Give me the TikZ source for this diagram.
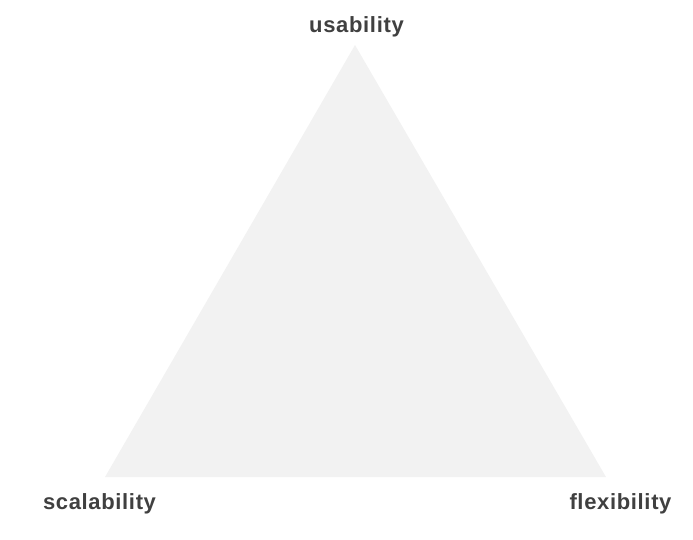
\documentclass[tikz,border=0pt]{standalone}
\usepackage{fontspec}
\setmainfont{Liberation Sans}
\newfontfamily\lblfont[LetterSpace=3]{Liberation Sans}
\definecolor{txtgray}{HTML}{404040}
\definecolor{trifill}{HTML}{F2F2F2}
\tikzset{lbl/.style={font=\lblfont\fontsize{22}{26}\selectfont\bfseries, text=txtgray, anchor=base, inner sep=0pt}}
\begin{document}
\begin{tikzpicture}[x=1pt,y=-1pt]
\useasboundingbox (0,0) rectangle (693,539);
\coordinate (top) at (355,45);
\coordinate (bl) at (105,477);
\coordinate (br) at (606,477);
\fill[trifill] (top) -- (bl) -- (br) -- cycle;
\node[lbl] (u) at (356.5,32) {usability};
\node[lbl] (s) at (99.5,509) {scalability};
\node[lbl] (f) at (620.5,509) {flexibility};
\end{tikzpicture}
\end{document}
